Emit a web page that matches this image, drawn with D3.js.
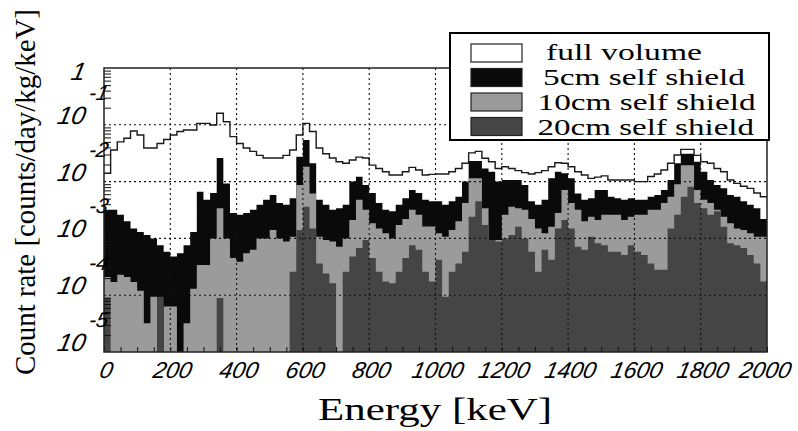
<!DOCTYPE html>
<meta charset="utf-8">
<style>
body { margin: 0; background: #fff; }
</style>
<body>
<svg width="798" height="431"></svg>
<script src="https://d3js.org/d3.v7.min.js"></script>
<script>
// histograms: 100 bins of 20 keV from 0 to 2000 keV
var binWidth = 20;

var fullVolume = [
  0.014, 0.036, 0.050, 0.058, 0.078, 0.066, 0.039, 0.039, 0.047, 0.055,
  0.066, 0.076, 0.081, 0.081, 0.106, 0.106, 0.099, 0.16, 0.113, 0.062,
  0.047, 0.039, 0.034, 0.029, 0.026, 0.026, 0.026, 0.029, 0.036, 0.066,
  0.106, 0.076, 0.039, 0.031, 0.026, 0.0224, 0.021, 0.024, 0.027, 0.026,
  0.0195, 0.017, 0.0149, 0.0131, 0.0131, 0.0149, 0.0178, 0.016, 0.0131, 0.0134,
  0.0136, 0.0136, 0.0149, 0.017, 0.021, 0.032, 0.034, 0.0257, 0.0224, 0.017,
  0.0183, 0.017, 0.0156, 0.0144, 0.0136, 0.0144, 0.0156, 0.0183, 0.0215, 0.021,
  0.0183, 0.0149, 0.0131, 0.0114, 0.012, 0.0126, 0.0107, 0.0107, 0.0107, 0.0107,
  0.0100, 0.0100, 0.0123, 0.0136, 0.0160, 0.021, 0.0294, 0.037, 0.037, 0.029,
  0.0224, 0.021, 0.017, 0.0149, 0.0107, 0.0093, 0.0083, 0.0076, 0.0063, 0.0054
];

var shield5cm = [
  0.0032, 0.0032, 0.0026, 0.0020, 0.0015, 0.0013, 0.00115, 0.0010, 0.00076, 0.00058,
  0.00048, 0.00055, 0.00076, 0.0013, 0.0066, 0.0048, 0.0063, 0.026, 0.0093, 0.0028,
  0.0026, 0.0028, 0.0032, 0.0039, 0.0048, 0.0058, 0.0042, 0.0039, 0.0051, 0.0274,
  0.054, 0.021, 0.0048, 0.0039, 0.0032, 0.0034, 0.0039, 0.010, 0.0122, 0.0087,
  0.0063, 0.0042, 0.0032, 0.0030, 0.0039, 0.0051, 0.0071, 0.0063, 0.0048, 0.0045,
  0.0045, 0.0039, 0.0045, 0.0054, 0.0100, 0.023, 0.023, 0.017, 0.0149, 0.0100,
  0.0107, 0.0107, 0.0107, 0.0087, 0.0045, 0.0039, 0.0048, 0.0114, 0.0149, 0.014,
  0.0114, 0.0062, 0.0048, 0.0051, 0.0071, 0.0071, 0.0054, 0.0051, 0.0048, 0.0051,
  0.0048, 0.0048, 0.0054, 0.0058, 0.0071, 0.0107, 0.021, 0.031, 0.031, 0.0224,
  0.0149, 0.0107, 0.0087, 0.0076, 0.0058, 0.0054, 0.0045, 0.0039, 0.0034, 0.0022
];

var shield10cm = [
  0.00021, 0.00017, 0.00023, 0.00021, 0.00017, 0.00012, 0.000032, 0.000094, 0, 0.000063,
  0.000063, 0, 0.000032, 0.00013, 0.00034, 0.00034, 0.0010, 0.0034, 0.0010, 0.00045,
  0.00039, 0.00055, 0.00063, 0.0010, 0.0010, 0.00141, 0.0010, 0.00088, 0.00107, 0.0087,
  0.0182, 0.0062, 0.00107, 0.00094, 0.00088, 0.00071, 0.0010, 0.0021, 0.0048, 0.0032,
  0.00185, 0.0015, 0.00123, 0.0010, 0.00173, 0.0022, 0.0032, 0.0026, 0.00162, 0.00162,
  0.00123, 0.00107, 0.00141, 0.0020, 0.0042, 0.0114, 0.0114, 0.0034, 0.00082, 0.00094,
  0.0026, 0.0036, 0.0034, 0.0032, 0.0022, 0.0015, 0.00123, 0.0016, 0.0028, 0.0071,
  0.0042, 0.0032, 0.0020, 0.0024, 0.0021, 0.0026, 0.0026, 0.0026, 0.0021, 0.0024,
  0.0026, 0.0026, 0.0032, 0.0032, 0.0042, 0.0054, 0.0090, 0.0195, 0.0195, 0.0071,
  0.0048, 0.0042, 0.0032, 0.0024, 0.00185, 0.0015, 0.00141, 0.00123, 0.00107, 0.00107
];

var shield20cm = [
  0.00009, 0, 0, 0, 0, 0, 0, 0, 0.000094, 0,
  0, 0, 0, 0, 0, 0, 0, 0.000089, 0, 0,
  0, 0, 0, 0, 0, 0, 0, 0, 0.00026, 0.00141,
  0.0036, 0.0015, 0.00036, 0.00024, 0.000162, 0, 0.00026, 0.00048, 0.00068, 0.00094,
  0.00045, 0.00026, 0.000174, 0.000162, 0.00026, 0.00045, 0.00076, 0.00063, 0.00026, 0.000174,
  0.00042, 0.000094, 0.00026, 0.00036, 0.00058, 0.0024, 0.0045, 0.00173, 0.00094, 0.00088,
  0.0010, 0.00115, 0.0016, 0.0010, 0.00058, 0.00026, 0.00063, 0.00042, 0.0015, 0.0021,
  0.0015, 0.00071, 0.00063, 0.00107, 0.00082, 0.00076, 0.00058, 0.00058, 0.00051, 0.00076,
  0.00058, 0.00051, 0.00036, 0.00028, 0.00028, 0.0015, 0.0026, 0.0054, 0.0081, 0.0042,
  0.0034, 0.0026, 0.0030, 0.0016, 0.00082, 0.00076, 0.00068, 0.00051, 0.00036, 0.000174
];

var xTickValues = [0, 200, 400, 600, 800, 1000, 1200, 1400, 1600, 1800, 2000];
var yDecades = [1e-5, 1e-4, 1e-3, 1e-2, 1e-1, 1];
var yLabelExp = ["-5", "-4", "-3", "-2", "-1", ""];
var legendNames = ["full volume", "5cm self shield", "10cm self shield", "20cm self shield"];
var legendColors = ["#ffffff", "#0a0a0a", "#9b9b9b", "#454545"];

var serifFont = "'Liberation Serif', 'Times New Roman', serif";
var sansFont = "'Liberation Sans', Arial, sans-serif";
var slant = "skewX(-12)";   // fake italic, the oblique face is not always there

// plot frame
var margin = {top: 68, right: 31, bottom: 79, left: 104},
    width = 798 - margin.left - margin.right,
    height = 431 - margin.top - margin.bottom;

var svg = d3.select("svg");
var g = svg.append("g")
    .attr("transform", "translate(" + margin.left + "," + margin.top + ")");

var x = d3.scaleLinear().domain([0, 2000]).range([0, width]);
var y = d3.scaleLog().domain([1e-5, 1]).range([height, 0]);

function yc(v) { return v <= 1e-5 ? height : y(Math.min(v, 1)); }

// turn bin contents into step points
function steps(vals) {
  var pts = [];
  vals.forEach(function(v, i) {
    pts.push([i * binWidth, v]);
    pts.push([(i + 1) * binWidth, v]);
  });
  return pts;
}

var area = d3.area()
    .x(function(d) { return x(d[0]); })
    .y0(height)
    .y1(function(d) { return yc(d[1]); });

var line = d3.line()
    .x(function(d) { return x(d[0]); })
    .y(function(d) { return yc(d[1]); });

g.append("path").attr("d", line(steps(fullVolume)))
    .attr("fill", "none").attr("stroke", "#1a1a1a").attr("stroke-width", 1.4);

[shield5cm, shield10cm, shield20cm].forEach(function(s, k) {
  g.append("path").attr("d", area(steps(s)))
      .attr("fill", legendColors[k + 1]).attr("stroke", "none");
});

// dotted grid
g.append("g").selectAll("line").data(xTickValues.slice(1, -1)).enter().append("line")
    .attr("x1", d => x(d)).attr("x2", d => x(d))
    .attr("y1", 0).attr("y2", height)
    .attr("stroke", "#111").attr("stroke-width", 1.1).attr("stroke-dasharray", "2,3");
g.append("g").selectAll("line").data(yDecades.slice(1, -1)).enter().append("line")
    .attr("x1", 0).attr("x2", width)
    .attr("y1", d => y(d)).attr("y2", d => y(d))
    .attr("stroke", "#111").attr("stroke-width", 1.1).attr("stroke-dasharray", "2,3");

// minor ticks
var minorX = d3.range(0, 2001, 50);
g.append("g").attr("transform", "translate(0," + height + ")")
    .call(d3.axisBottom(x).tickValues(minorX).tickSize(-5).tickFormat(""))
    .call(a => a.select(".domain").remove())
    .selectAll("line").attr("stroke", "#111");

var minorY = [];
for (var e = -5; e < 0; e++) for (var m = 2; m < 10; m++) minorY.push(m * Math.pow(10, e));
g.append("g")
    .call(d3.axisLeft(y).tickValues(minorY).tickSize(-7).tickFormat(""))
    .call(a => a.select(".domain").remove())
    .selectAll("line").attr("stroke", "#111");

// frame
g.append("rect").attr("width", width).attr("height", height)
    .attr("fill", "none").attr("stroke", "#222").attr("stroke-width", 1.5);

// x tick labels
g.append("g").attr("transform", "translate(0," + height + ")")
    .call(d3.axisBottom(x).tickValues(xTickValues).tickSize(0).tickPadding(10).tickFormat(d3.format("d")))
    .call(a => a.select(".domain").remove())
    .attr("font-family", sansFont).attr("font-size", 23)
    .selectAll("text")
      .attr("font-style", "italic").attr("transform", slant)
      .attr("fill", "#000").attr("dx", d => d === 2000 ? 2 : 6);

// y tick labels 10^n
var yl = svg.append("g").attr("font-family", sansFont).attr("font-style", "italic").attr("fill", "#000");
yDecades.forEach(function(d, i) {
  var py = margin.top + y(d);
  var lab = d === 1 ? "1" : "10";
  yl.append("text")
      .attr("transform", "translate(84," + (d === 1 ? py + 12 : py - 1) + ") " + slant)
      .attr("text-anchor", "end").attr("font-size", 25)
      .text(lab);
  if (d !== 1) {
    yl.append("text")
        .attr("transform", "translate(88," + (py - 25) + ") " + slant)
        .attr("font-size", 21)
        .text(yLabelExp[i]);
  }
});

// axis titles
svg.append("text").attr("x", 435).attr("y", 420).attr("text-anchor", "middle")
    .attr("font-family", serifFont).attr("font-size", 32)
    .attr("textLength", 234).attr("lengthAdjust", "spacingAndGlyphs")
    .text("Energy [keV]");
svg.append("text").attr("transform", "translate(35,192) rotate(-90)")
    .attr("text-anchor", "middle")
    .attr("font-family", serifFont).attr("font-size", 29)
    .attr("textLength", 366).attr("lengthAdjust", "spacingAndGlyphs")
    .text("Count rate [counts/day/kg/keV]");

// legend
var leg = svg.append("g");
leg.append("rect").attr("x", 450).attr("y", 33).attr("width", 319).attr("height", 107)
    .attr("fill", "#fff").attr("stroke", "#000").attr("stroke-width", 2);
var textStart = [546, 543, 537.5, 537.5], textEnd = [702, 745, 755.6, 754];
legendNames.forEach(function(name, i) {
  leg.append("rect").attr("x", 471).attr("y", 44 + 24.5 * i).attr("width", 51).attr("height", 18)
      .attr("fill", legendColors[i]).attr("stroke", "#222").attr("stroke-width", 1.2);
  leg.append("text").attr("x", textStart[i]).attr("y", 60 + 25 * i)
      .attr("font-family", serifFont).attr("font-size", 24)
      .attr("textLength", textEnd[i] - textStart[i]).attr("lengthAdjust", "spacingAndGlyphs")
      .text(name);
});
</script>
</body>
